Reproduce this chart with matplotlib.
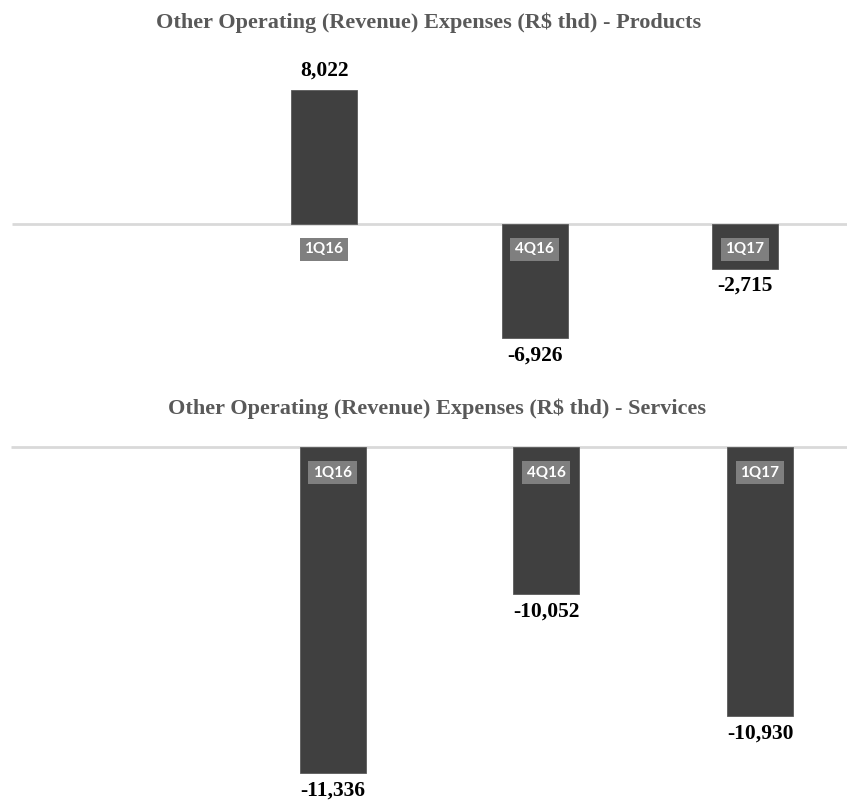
import matplotlib
matplotlib.use("Agg")
import matplotlib.pyplot as plt

categories = ["1Q16", "4Q16", "1Q17"]
products = [8022, -6926, -2715]
services = [-11336, -10052, -10930]
title_products = "Other Operating (Revenue) Expenses (R$ thd) - Products"
title_services = "Other Operating (Revenue) Expenses (R$ thd) - Services"

W, H = 847, 802
DPI = 100
BAR = "#404040"
LINE = "#d9d9d9"
TITLE_C = "#595959"
SERIF = "Liberation Serif"

fig = plt.figure(figsize=(W / DPI, H / DPI), dpi=DPI)


def make_axes(px_top, px_bot, x0_px, xscale, base_px, base_val, yscale):
    ax = fig.add_axes([0, 1 - px_bot / H, 1, (px_bot - px_top) / H])
    ax.set_xlim(-x0_px / xscale, (W - x0_px) / xscale)
    ax.set_ylim(base_val - (px_bot - base_px) / yscale,
                base_val + (base_px - px_top) / yscale)
    ax.axis("off")
    return ax


def fmt(v):
    return f"{v:,}"


def draw(ax, values, base, line_start_px, x0_px, xscale):
    xs = [i + 1 for i in range(len(values))]
    ax.bar(xs, [v - base for v in values], bottom=base, width=66 / xscale,
           color=BAR, edgecolor="#5a5a5a", linewidth=0.6, zorder=2)
    ax.hlines(base, (line_start_px - x0_px) / xscale, ax.get_xlim()[1],
              color=LINE, linewidth=2, zorder=1)
    for x, v, c in zip(xs, values, categories):
        ax.annotate(c, (x, base), xytext=(0, -18.5), textcoords="offset points",
                    ha="center", va="center", color="white", fontsize=11,
                    family="Lato", fontweight="bold", zorder=3,
                    bbox=dict(boxstyle="square,pad=0.3", fc="#7f7f7f", ec="none"))
        off = 14 if v >= 0 else -12.5
        ax.annotate(fmt(v), (x, v), xytext=(0, off), textcoords="offset points",
                    ha="center", va="center", color="black", fontsize=15.5,
                    family=SERIF, fontweight="bold", zorder=3,
                    annotation_clip=False, clip_on=False)


# top chart
x0_top, xs_top = 113.5, 210.5
ax1 = make_axes(40, 380, x0_top, xs_top, 223.5, 0, 0.0166)
draw(ax1, products, 0, 12, x0_top, xs_top)

# bottom chart
x0_bot, xs_bot = 118.75, 213.75
ax2 = make_axes(428, 802, x0_bot, xs_bot, 447, -9000, 0.1396)
draw(ax2, services, -9000, 11, x0_bot, xs_bot)

fig.text(429 / W, 1 - 23 / H, title_products, ha="center", va="center",
         color=TITLE_C, fontsize=16, family=SERIF, fontweight="bold")
fig.text(437 / W, 1 - 409 / H, title_services, ha="center", va="center",
         color=TITLE_C, fontsize=16, family=SERIF, fontweight="bold")

fig.savefig("out.png", dpi=DPI, facecolor="white")
